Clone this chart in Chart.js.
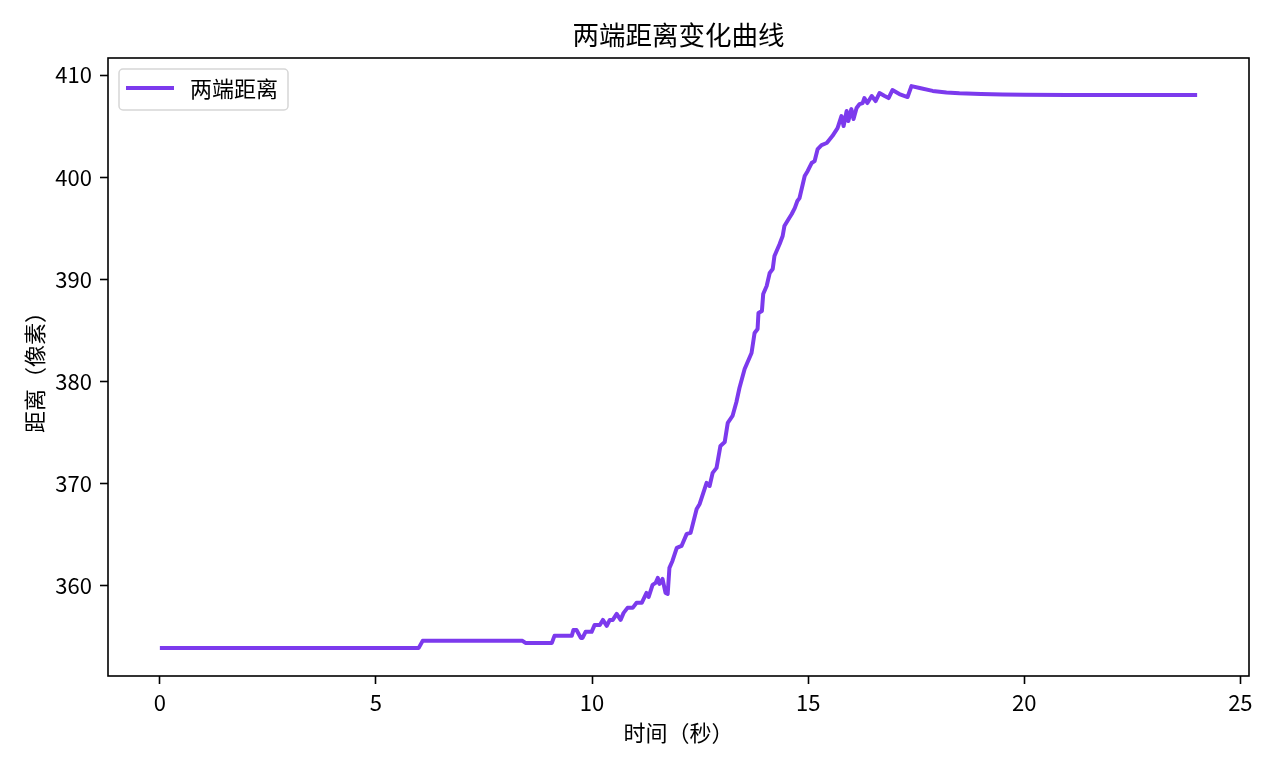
<!DOCTYPE html>
<html>
<head>
<meta charset="utf-8">
<script src="https://cdn.jsdelivr.net/npm/chart.js@4/dist/chart.umd.min.js"></script>
<style>
  html, body { margin: 0; padding: 0; background: #fff; }
  #wrap { width: 1280px; height: 768px; }
</style>
</head>
<body>
<div id="wrap"><canvas id="mainChart" width="1280" height="768"></canvas></div>
<script>
/* ─── DATA ─── */
const timeSec = [0, 5.99, 6.08, 8.39, 8.46, 9.07, 9.13, 9.53, 9.57, 9.64, 9.74, 9.78, 9.85, 9.99,
  10.06, 10.18, 10.25, 10.34, 10.41, 10.48, 10.57, 10.66, 10.73, 10.82, 10.94, 11.03, 11.15, 11.26,
  11.31, 11.40, 11.47, 11.52, 11.56, 11.63, 11.70, 11.75, 11.79, 11.86, 11.96, 12.07, 12.19, 12.28,
  12.42, 12.49, 12.65, 12.72, 12.79, 12.88, 12.97, 13.07, 13.14, 13.25, 13.34, 13.41, 13.53, 13.69,
  13.76, 13.83, 13.85, 13.93, 13.96, 14.04, 14.11, 14.18, 14.22, 14.34, 14.41, 14.45, 14.52, 14.62,
  14.69, 14.75, 14.80, 14.92, 14.99, 15.08, 15.15, 15.22, 15.31, 15.43, 15.56, 15.68, 15.77, 15.82,
  15.89, 15.93, 16.00, 16.05, 16.12, 16.19, 16.26, 16.30, 16.37, 16.47, 16.56, 16.65, 16.77, 16.86,
  16.95, 17.11, 17.30, 17.39, 17.58, 17.88, 18.2, 18.5, 19.0, 19.5, 20.0, 21.0, 22.0, 23.0, 24.0];
const distancePx = [353.93, 353.93, 354.62, 354.62, 354.42, 354.42, 355.11, 355.11, 355.69, 355.69,
  354.91, 354.91, 355.5, 355.5, 356.18, 356.18, 356.67, 356.08, 356.67, 356.67, 357.26, 356.67,
  357.36, 357.85, 357.85, 358.34, 358.34, 359.31, 358.92, 360.1, 360.29, 360.78, 360.2, 360.68,
  359.31, 359.22, 361.76, 362.44, 363.72, 363.91, 365.09, 365.19, 367.53, 368.02, 370.08, 369.78,
  371.06, 371.55, 373.7, 374.09, 375.95, 376.63, 378.0, 379.37, 381.23, 382.8, 384.75, 385.15,
  386.71, 386.91, 388.57, 389.35, 390.63, 391.02, 392.29, 393.46, 394.25, 395.22, 395.71, 396.4,
  396.98, 397.67, 397.96, 400.12, 400.61, 401.39, 401.58, 402.76, 403.15, 403.35, 404.03, 404.81,
  405.99, 405.01, 406.48, 405.5, 406.67, 405.69, 406.77, 407.16, 407.26, 407.75, 407.26, 407.95,
  407.46, 408.24, 407.95, 407.75, 408.53, 408.14, 407.85, 408.92, 408.73, 408.45, 408.3, 408.21,
  408.14, 408.1, 408.08, 408.06, 408.05, 408.05, 408.05];
const xTicks = [0, 5, 10, 15, 20, 25];
const yTicks = [360, 370, 380, 390, 400, 410];
const seriesLabel = '两端距离';
const chartTitle = '两端距离变化曲线';
const xTitle = '时间（秒）';
const yTitle = '距离（像素）';

const lineColor = '#7c3aed';
const FONT = "'Noto Sans CJK SC', 'Noto Sans', sans-serif";

Chart.defaults.font.family = FONT;
Chart.defaults.color = '#000';

/* ─── SPINES + TITLE + LEGEND (matplotlib look) ─── */
const frameAndLegend = {
  id: 'frameAndLegend',
  afterDatasetsDraw(chart) {
    const { ctx, chartArea: a } = chart;
    ctx.save();
    ctx.strokeStyle = '#000';
    ctx.lineWidth = 1.6;
    ctx.strokeRect(a.left, a.top, a.right - a.left, a.bottom - a.top);

    // title centred over the axes, not the canvas
    ctx.fillStyle = '#000';
    ctx.font = '26.5px ' + FONT;
    ctx.textAlign = 'center';
    ctx.textBaseline = 'middle';
    ctx.fillText(chartTitle, (a.left + a.right) / 2, 35);

    // legend box, upper left inside the axes
    const bx = a.left + 11, by = a.top + 11, bw = 169, bh = 41;
    ctx.beginPath();
    ctx.roundRect(bx, by, bw, bh, 4);
    ctx.fillStyle = 'rgba(255,255,255,0.8)';
    ctx.fill();
    ctx.strokeStyle = '#d6d6d6';
    ctx.lineWidth = 1.5;
    ctx.stroke();

    const ds = chart.data.datasets[0];
    ctx.beginPath();
    ctx.moveTo(bx + 7, by + 19);
    ctx.lineTo(bx + 55, by + 19);
    ctx.strokeStyle = ds.borderColor;
    ctx.lineWidth = ds.borderWidth;
    ctx.stroke();

    ctx.fillStyle = '#000';
    ctx.font = '22px ' + FONT;
    ctx.textAlign = 'left';
    ctx.fillText(ds.label, bx + 71, by + 20);
    ctx.restore();
  }
};

const tickGrid = { display: true, drawOnChartArea: false, drawTicks: true, tickLength: 8, tickColor: '#000', tickWidth: 1.6 };

new Chart(document.getElementById('mainChart').getContext('2d'), {
  type: 'line',
  data: {
    datasets: [{
      label: seriesLabel,
      data: timeSec.map((t, i) => ({ x: t, y: distancePx[i] })),
      borderColor: lineColor,
      backgroundColor: lineColor,
      borderWidth: 4,
      borderJoinStyle: 'round',
      borderCapStyle: 'butt',
      pointRadius: 0,
      tension: 0,
      fill: false
    }]
  },
  options: {
    responsive: false,
    devicePixelRatio: 1,
    animation: false,
    layout: { padding: { left: 0, right: 31, top: 58, bottom: 0 } },
    plugins: {
      legend: { display: false },
      tooltip: { enabled: false },
      title: { display: false }
    },
    scales: {
      x: {
        type: 'linear', min: -1.2, max: 25.2,
        grid: tickGrid,
        border: { display: false },
        afterBuildTicks: s => { s.ticks = xTicks.map(v => ({ value: v })); },
        afterFit: s => { s.height = 92; },
        ticks: { color: '#000', font: { size: 22 }, padding: 5, maxRotation: 0 },
        title: { display: true, text: xTitle, color: '#000', font: { size: 22 }, padding: { top: 0, bottom: 21.8 } }
      },
      y: {
        type: 'linear', min: 351.18, max: 411.67,
        grid: tickGrid,
        border: { display: false },
        afterBuildTicks: s => { s.ticks = yTicks.map(v => ({ value: v })); },
        afterFit: s => { s.width = 108; },
        ticks: { color: '#000', font: { size: 22 }, padding: 8 },
        title: { display: true, text: yTitle, color: '#000', font: { size: 22 }, padding: { top: 21.8, bottom: 0 } }
      }
    }
  },
  plugins: [frameAndLegend]
});
</script>
</body>
</html>
